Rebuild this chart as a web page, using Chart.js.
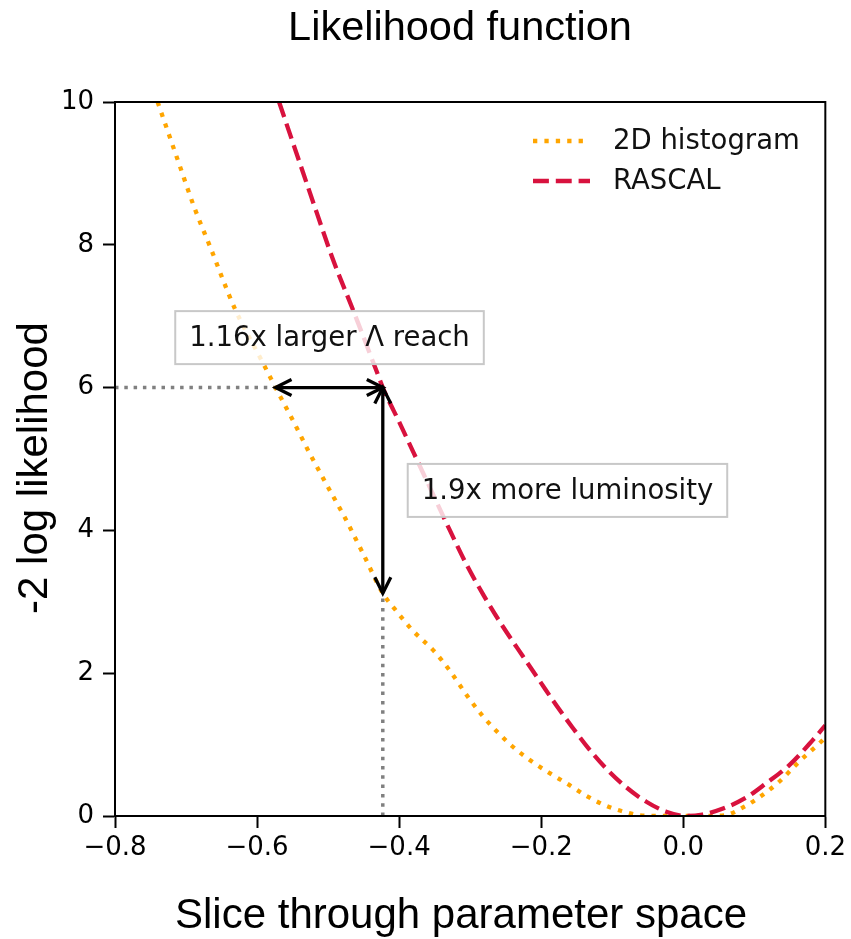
<!DOCTYPE html>
<html>
<head>
<meta charset="utf-8">
<script src="https://cdn.jsdelivr.net/npm/chart.js@4/dist/chart.umd.min.js"></script>
<style>
  html, body { margin: 0; padding: 0; background: #fff; }
  #wrap { width: 851px; height: 939px; }
</style>
</head>
<body>
<div id="wrap"><canvas id="c" width="851" height="939"></canvas></div>
<script>
// Likelihood scan along one slice of parameter space
const histX = [-0.740, -0.710, -0.689, -0.666, -0.631, -0.592, -0.574, -0.550, -0.526, -0.502,
               -0.477, -0.451, -0.423, -0.403, -0.382, -0.350, -0.329, -0.304, -0.284, -0.263,
               -0.240, -0.214, -0.188, -0.163, -0.136, -0.108, -0.080, -0.062, -0.030, 0.000,
               0.030, 0.058, 0.086, 0.111, 0.135, 0.163, 0.194, 0.200];
const histY = [10.00, 9.14, 8.54, 7.97, 7.10, 6.35, 6.00, 5.55, 5.08, 4.64,
               4.19, 3.68, 3.12, 2.86, 2.61, 2.30, 2.04, 1.68, 1.42, 1.19,
               0.97, 0.77, 0.60, 0.45, 0.28, 0.14, 0.05, 0.01, 0.00, 0.00,
               0.00, 0.01, 0.13, 0.29, 0.48, 0.76, 1.04, 1.10];

const rascalX = [-0.569, -0.540, -0.516, -0.493, -0.465, -0.431, -0.423, -0.399, -0.375, -0.353,
                 -0.329, -0.305, -0.281, -0.257, -0.226, -0.202, -0.178, -0.156, -0.132, -0.108,
                 -0.080, -0.052, -0.024, 0.004, 0.027, 0.055, 0.089, 0.117, 0.149, 0.182,
                 0.200];
const rascalY = [10.00, 9.15, 8.45, 7.79, 7.09, 6.21, 6.00, 5.50, 4.99, 4.52,
                 4.01, 3.52, 3.09, 2.70, 2.24, 1.89, 1.54, 1.24, 0.93, 0.66,
                 0.40, 0.20, 0.06, 0.00, 0.02, 0.10, 0.26, 0.46, 0.71, 1.06,
                 1.27];

const seriesNames = ['2D histogram', 'RASCAL'];

const xTickValues = [-0.8, -0.6, -0.4, -0.2, 0.0, 0.2];
const xTickLabels = ['\u22120.8', '\u22120.6', '\u22120.4', '\u22120.2', '0.0', '0.2'];
const yTickValues = [0, 2, 4, 6, 8, 10];
const yTickLabels = ['0', '2', '4', '6', '8', '10'];

// Reach comparison at -2 log L = 6
const reachLevel = 6;
const histReachX = -0.574;
const rascalReachX = -0.423;
const histAtRascalReach = 3.12;

const noteTexts = ['1.16x larger \u039b reach', '1.9x more luminosity'];
const noteX = [-0.498, -0.163];
const noteY = [6.70, 4.56];

const titleText = 'Likelihood function';
const xTitle = 'Slice through parameter space';
const yTitle = '-2 log likelihood';

const toPoints = (xs, ys) => xs.map((v, i) => ({ x: v, y: ys[i] }));

const ORANGE = '#ffa500';
const RED = '#d8123e';
const GRAY = '#808080';

function arrowHead(ctx, tx, ty, ux, uy) {
  const L = 16, W = 8;
  ctx.beginPath();
  ctx.moveTo(tx + ux * L - uy * W, ty + uy * L + ux * W);
  ctx.lineTo(tx, ty);
  ctx.lineTo(tx + ux * L + uy * W, ty + uy * L - ux * W);
  ctx.stroke();
}

function doubleArrow(ctx, x1, y1, x2, y2) {
  const d = Math.hypot(x2 - x1, y2 - y1);
  const ux = (x2 - x1) / d, uy = (y2 - y1) / d;
  ctx.beginPath();
  ctx.moveTo(x1, y1);
  ctx.lineTo(x2, y2);
  ctx.stroke();
  arrowHead(ctx, x1, y1, ux, uy);
  arrowHead(ctx, x2, y2, -ux, -uy);
}

const overlay = {
  id: 'overlay',
  afterDatasetsDraw(chart) {
    const { ctx, chartArea: a, scales: { x, y } } = chart;
    ctx.save();

    // double-headed arrows
    ctx.strokeStyle = '#000';
    ctx.lineWidth = 3.3;
    ctx.lineCap = 'butt';
    ctx.lineJoin = 'miter';
    ctx.setLineDash([]);
    const py = y.getPixelForValue(reachLevel);
    const xh = x.getPixelForValue(histReachX);
    const xr = x.getPixelForValue(rascalReachX);
    const yl = y.getPixelForValue(histAtRascalReach);
    doubleArrow(ctx, xh, py, xr, py);
    doubleArrow(ctx, xr, py, xr, yl);

    // annotation boxes
    ctx.font = '27.5px "DejaVu Sans"';
    ctx.textAlign = 'center';
    ctx.textBaseline = 'middle';
    noteTexts.forEach((t, i) => {
      const cx = x.getPixelForValue(noteX[i]);
      const cy = y.getPixelForValue(noteY[i]);
      const w = ctx.measureText(t).width + 28;
      const h = 53;
      ctx.fillStyle = 'rgba(255,255,255,0.8)';
      ctx.fillRect(cx - w / 2, cy - h / 2, w, h);
      ctx.strokeStyle = '#c8c8c8';
      ctx.lineWidth = 2;
      ctx.strokeRect(cx - w / 2, cy - h / 2, w, h);
      ctx.fillStyle = '#111';
      ctx.fillText(t, cx, cy + 1);
    });

    // frame on all four sides
    ctx.strokeStyle = '#000';
    ctx.lineWidth = 2;
    ctx.strokeRect(a.left, a.top, a.right - a.left, a.bottom - a.top);

    // legend
    const rows = [141, 181];
    [0, 1].forEach((di, r) => {
      const ds = chart.data.datasets[di];
      ctx.strokeStyle = ds.borderColor;
      ctx.lineWidth = ds.borderWidth;
      ctx.setLineDash(ds.borderDash || []);
      ctx.beginPath();
      ctx.moveTo(533, rows[r]);
      ctx.lineTo(590, rows[r]);
      ctx.stroke();
      ctx.setLineDash([]);
      ctx.fillStyle = '#111';
      ctx.font = '27.5px "DejaVu Sans"';
      ctx.textAlign = 'left';
      ctx.textBaseline = 'middle';
      ctx.fillText(ds.label, 613, rows[r] + 1);
    });
    ctx.restore();
  },
  afterDraw(chart) {
    const { ctx } = chart;
    ctx.save();
    ctx.fillStyle = '#000';
    ctx.textBaseline = 'alphabetic';
    ctx.textAlign = 'center';
    ctx.font = '41.5px "Liberation Sans", Arial, sans-serif';
    ctx.fillText(titleText, 460, 40);
    ctx.font = '42px "Liberation Sans", Arial, sans-serif';
    ctx.fillText(xTitle, 461, 928);
    ctx.translate(47, 468);
    ctx.rotate(-Math.PI / 2);
    ctx.fillText(yTitle, 0, 0);
    ctx.restore();
  }
};

new Chart(document.getElementById('c'), {
  type: 'scatter',
  data: {
    datasets: [
      {
        label: seriesNames[0],
        data: toPoints(histX, histY),
        showLine: true,
        borderColor: ORANGE,
        borderWidth: 4.3,
        borderDash: [4.3, 7.1],
        pointRadius: 0,
        cubicInterpolationMode: 'monotone',
        clip: 0,
        order: 2
      },
      {
        label: seriesNames[1],
        data: toPoints(rascalX, rascalY),
        showLine: true,
        borderColor: RED,
        borderWidth: 4.3,
        borderDash: [15.9, 6.9],
        pointRadius: 0,
        cubicInterpolationMode: 'monotone',
        clip: 0,
        order: 1
      },
      {
        label: 'guide-h',
        data: [{ x: -0.8, y: reachLevel }, { x: histReachX, y: reachLevel }],
        showLine: true,
        borderColor: GRAY,
        borderWidth: 3.5,
        borderDash: [3.5, 5.8],
        pointRadius: 0,
        clip: 0,
        order: 3
      },
      {
        label: 'guide-v',
        data: [{ x: rascalReachX, y: 0 }, { x: rascalReachX, y: histAtRascalReach }],
        showLine: true,
        borderColor: GRAY,
        borderWidth: 3.5,
        borderDash: [3.5, 5.8],
        pointRadius: 0,
        clip: 0,
        order: 3
      }
    ]
  },
  options: {
    responsive: false,
    devicePixelRatio: 1,
    animation: false,
    events: [],
    layout: { padding: { top: 102, right: 25, left: 0, bottom: 0 } },
    plugins: {
      legend: { display: false },
      tooltip: { enabled: false },
      title: { display: false }
    },
    scales: {
      x: {
        type: 'linear',
        min: -0.8,
        max: 0.2,
        afterFit(s) { s.height = 123; },
        afterBuildTicks(s) { s.ticks = xTickValues.map(v => ({ value: v })); },
        grid: { drawOnChartArea: false, drawTicks: true, tickLength: 12, tickWidth: 2, tickColor: '#000' },
        border: { display: true, color: '#000', width: 2 },
        ticks: {
          autoSkip: false,
          maxRotation: 0,
          padding: 5,
          color: '#000',
          font: { family: 'DejaVu Sans', size: 26 },
          callback: (v, i) => xTickLabels[i]
        }
      },
      y: {
        type: 'linear',
        min: 0,
        max: 10,
        afterFit(s) { s.width = 115; },
        afterBuildTicks(s) { s.ticks = yTickValues.map(v => ({ value: v })); },
        grid: { drawOnChartArea: false, drawTicks: true, tickLength: 12, tickWidth: 2, tickColor: '#000' },
        border: { display: true, color: '#000', width: 2 },
        ticks: {
          autoSkip: false,
          padding: 9,
          color: '#000',
          font: { family: 'DejaVu Sans', size: 26 },
          callback: (v, i) => yTickLabels[i]
        }
      }
    }
  },
  plugins: [overlay]
});
</script>
</body>
</html>
